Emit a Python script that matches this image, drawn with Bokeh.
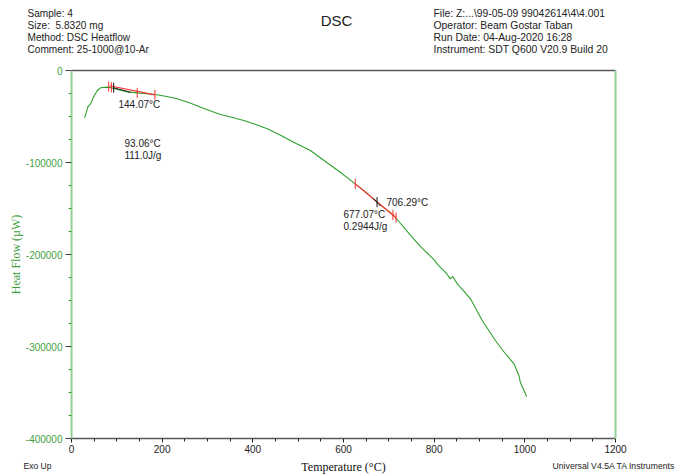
from bokeh.plotting import figure
from bokeh.models import Range1d, LinearAxis, FixedTicker, Label
from bokeh.layouts import column
from bokeh.embed import file_html
from bokeh.resources import INLINE

# ---- data ----
temperature = [29, 36, 43, 49, 57, 64, 72, 82, 93, 108, 123, 145, 165, 185, 210, 233,
               260, 285, 310, 329, 355, 380, 405, 432, 460, 490, 527, 557, 590, 626,
               650, 674, 711, 748, 770, 799, 810, 825, 836, 841, 851, 865, 880, 906,
               935, 955, 976, 987, 990, 1004]
heat_flow = [-51400, -39900, -35500, -28300, -21700, -18800, -18300, -18100, -19600,
             -21500, -23200, -24300, -25100, -26100, -28300, -30800, -35000, -39900,
             -44500, -47800, -51000, -54300, -58500, -63400, -70000, -77900, -87000,
             -97800, -109500, -123200, -132500, -143100, -157600, -179300, -191500,
             -205400, -212000, -219500, -226400, -223900, -231900, -239500, -248200,
             -271700, -293500, -306500, -318800, -331500, -338800, -354300]

tan1_t = [84, 184]
tan1_hf = [-16600, -26400]
base1_t = [93, 130]
base1_hf = [-18800, -23600]
tan1_red_ticks_t = [82, 88, 145, 184]
tan1_red_ticks_hf = [-17500, -18300, -24300, -26400]
tan1_black_tick_t = [93]
tan1_black_tick_hf = [-18600]

tan2_t = [626, 716]
tan2_hf = [-123200, -160000]
base2_t = [666, 682]
base2_hf = [-139000, -147500]
tan2_red_ticks_t = [626, 709, 716]
tan2_red_ticks_hf = [-123200, -157000, -160000]
tan2_black_tick_t = [674]
tan2_black_tick_hf = [-143100]

x_ticks = [0, 200, 400, 600, 800, 1000, 1200]
x_tick_labels = ["0", "200", "400", "600", "800", "1000", "1200"]
x_minor = [50, 100, 150, 250, 300, 350, 450, 500, 550, 650, 700, 750, 850, 900, 950,
           1050, 1100, 1150]
y_ticks = [0, -100000, -200000, -300000, -400000]
y_tick_labels = ["0", "-100000", "-200000", "-300000", "-400000"]
y_minor = [-25000, -50000, -75000, -125000, -150000, -175000, -225000, -250000,
           -275000, -325000, -350000, -375000]

header_left = ["Sample: 4", "Size:\u00a0 5.8320 mg", "Method: DSC Heatflow",
               "Comment: 25-1000@10-Ar"]
header_right = ["File: Z:...\\99-05-09 99042614\\4\\4.001",
                "Operator: Beam Gostar Taban", "Run Date: 04-Aug-2020 16:28",
                "Instrument: SDT Q600 V20.9 Build 20"]

W = 675
HEAD_H = 62
MAIN_H = 396
FOOT_H = 17

GREEN_AX = "#93d293"
GREEN_TXT = "#3f9f3f"
CURVE = "#2ea02e"
RED = "#ff3030"
GRAY = "#555555"
TXT = "#222222"


def blank(height):
    f = figure(width=W, height=height, output_backend="svg", toolbar_location=None,
               x_range=Range1d(0, W), y_range=Range1d(height, 0),
               min_border=0, x_axis_type=None, y_axis_type=None, frame_align=False)
    f.outline_line_color = None
    f.background_fill_color = "white"
    f.border_fill_color = "white"
    return f


def put(f, text, x, y, size="11px", align="left", font="Liberation Sans", color=TXT):
    f.add_layout(Label(x=x, y=y, text=text, text_font=font, text_font_size=size,
                       text_color=color, text_align=align, text_baseline="middle"))


# ---- header ----
head = blank(HEAD_H)
for i, t in enumerate(header_left):
    put(head, t, 27, 12.5 + 12 * i, size="10.1px")
for i, t in enumerate(header_right):
    put(head, t, 433, 12.5 + 12 * i, size="10.4px")
put(head, "DSC", 336, 20, size="15px", align="center")

# ---- main plot ----
p = figure(width=W, height=MAIN_H, output_backend="svg", toolbar_location=None,
           x_range=Range1d(0, 1200), y_range=Range1d(-400000, 0),
           min_border_left=71, min_border_right=60, min_border_top=8,
           min_border_bottom=20, x_axis_type=None, y_axis_type=None,
           frame_align=False)
p.outline_line_color = None
p.background_fill_color = "white"
p.border_fill_color = "white"

xb = LinearAxis(ticker=FixedTicker(ticks=x_ticks, minor_ticks=x_minor),
                major_label_overrides={t: l for t, l in zip(x_ticks, x_tick_labels)})
xb.axis_line_color = GRAY
xb.axis_line_width = 1.5
xb.major_tick_line_color = TXT
xb.minor_tick_line_color = TXT
xb.major_tick_in = 0
xb.major_tick_out = 4
xb.minor_tick_in = 0
xb.minor_tick_out = 3
xb.major_label_standoff = 2
xb.major_label_text_font = "Liberation Sans"
xb.major_label_text_font_size = "10px"
xb.major_label_text_color = TXT
p.add_layout(xb, "below")

yl = LinearAxis(ticker=FixedTicker(ticks=y_ticks, minor_ticks=y_minor),
                major_label_overrides={t: l for t, l in zip(y_ticks, y_tick_labels)})
yl.axis_line_color = GREEN_AX
yl.axis_line_width = 2
yl.major_tick_line_color = "#444444"
yl.minor_tick_line_color = GREEN_TXT
yl.major_tick_in = 0
yl.major_tick_out = 6
yl.minor_tick_in = 0
yl.minor_tick_out = 3
yl.major_label_standoff = 3
yl.major_label_text_font = "Liberation Sans"
yl.major_label_text_font_size = "10px"
yl.major_label_text_color = GREEN_TXT
yl.axis_label = "Heat Flow (µW)"
yl.axis_label_text_font = "Liberation Serif"
yl.axis_label_text_font_style = "normal"
yl.axis_label_text_font_size = "12px"
yl.axis_label_text_color = GREEN_TXT
yl.axis_label_standoff = 0
p.add_layout(yl, "left")

xt = LinearAxis(ticker=FixedTicker(ticks=[]), major_label_text_font_size="0px")
xt.axis_line_color = GRAY
xt.axis_line_width = 1.5
xt.major_tick_line_color = None
xt.minor_tick_line_color = None
p.add_layout(xt, "above")

yr = LinearAxis(ticker=FixedTicker(ticks=[]), major_label_text_font_size="0px")
yr.axis_line_color = GREEN_AX
yr.axis_line_width = 2
yr.major_tick_line_color = None
yr.minor_tick_line_color = None
p.add_layout(yr, "right")

p.line(temperature, heat_flow, line_color=CURVE, line_width=1.1)

TK = 5500
p.line(tan1_t, tan1_hf, line_color=RED, line_width=1.2)
p.line(base1_t, base1_hf, line_color=TXT, line_width=1)
p.segment(tan1_red_ticks_t, [h + TK for h in tan1_red_ticks_hf],
          tan1_red_ticks_t, [h - TK for h in tan1_red_ticks_hf], line_color=RED, line_width=1)
p.segment(tan1_black_tick_t, [h + TK for h in tan1_black_tick_hf],
          tan1_black_tick_t, [h - TK for h in tan1_black_tick_hf], line_color="#111111", line_width=1)

p.line(tan2_t, tan2_hf, line_color=RED, line_width=1.2)
p.line(base2_t, base2_hf, line_color=TXT, line_width=1)
p.segment(tan2_red_ticks_t, [h + TK for h in tan2_red_ticks_hf],
          tan2_red_ticks_t, [h - TK for h in tan2_red_ticks_hf], line_color=RED, line_width=1)
p.segment(tan2_black_tick_t, [h + TK for h in tan2_black_tick_hf],
          tan2_black_tick_t, [h - TK for h in tan2_black_tick_hf], line_color="#111111", line_width=1)


def at(xi, yi):
    # reference-page pixels -> data coordinates of the main frame
    return ((xi - 71) * 1200 / 544, -(yi - 70) * 400000 / 368)


for text, xi, yi in [("144.07°C", 118, 104), ("93.06°C", 124, 143),
                     ("111.0J/g", 124, 155), ("706.29°C", 386, 202),
                     ("677.07°C", 343, 214), ("0.2944J/g", 343, 226)]:
    x, y = at(xi, yi)
    put(p, text, x, y, size="10px")

# ---- footer ----
foot = blank(FOOT_H)
put(foot, "Exo Up", 23, 7, size="8.5px")
put(foot, "Temperature (°C)", 343, 8, size="12px", align="center",
    font="Liberation Serif", color="#111111")
put(foot, "Universal V4.5A TA Instruments", 552, 7, size="8.7px")

layout = column(head, p, foot, spacing=0)
open("out.html", "w").write(file_html(layout, INLINE))
